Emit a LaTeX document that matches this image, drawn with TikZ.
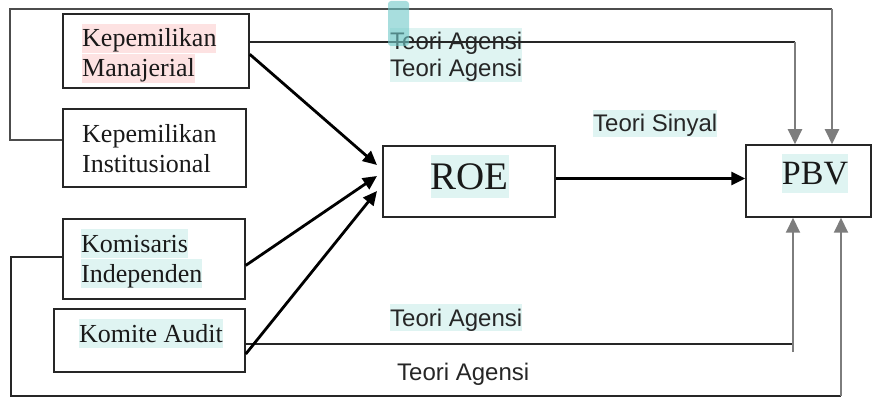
\documentclass[tikz,border=0pt]{standalone}
\usepackage{fontspec}
\setmainfont{Liberation Serif}
\newfontfamily\arialfont{Liberation Sans}
\usetikzlibrary{arrows.meta}
\definecolor{hlcyan}{RGB}{223,244,242}
\definecolor{hlpink}{RGB}{253,226,226}
\definecolor{marker}{RGB}{110,200,200}
\definecolor{linegray}{RGB}{125,125,125}
\tikzset{
  box/.style={draw=black!85, line width=1.5pt, inner sep=0pt},
  boxtext/.style={anchor=base west, inner sep=0pt, text height=23pt, text depth=6pt, text=black!90, font=\fontsize{26}{28}\selectfont},
  theory/.style={anchor=base west, inner sep=0pt, text height=22pt, text depth=5pt, text=black!85, font=\arialfont\fontsize{24}{26}\selectfont},
  link/.style={line width=1.4pt, black!85},
  grayarrow/.style={line width=2pt, linegray, -{Triangle[length=15pt,width=14pt]}},
  blackarrow/.style={line width=2.8pt, -{Triangle[length=14pt,width=13pt]}},
}
\begin{document}
\begin{tikzpicture}[x=1pt,y=1pt,yscale=-1,xscale=1]
\useasboundingbox (0,0) rectangle (873,398);
\node[box, minimum width=186pt, minimum height=74pt] (km) at (156,51) {};
\node[box, minimum width=183pt, minimum height=78pt] (ki) at (154.5,148) {};
\node[box, minimum width=182pt, minimum height=80pt] (kin) at (154,259) {};
\node[box, minimum width=191pt, minimum height=63pt] (ka) at (149.5,340.5) {};
\node[box, minimum width=172pt, minimum height=71pt] (roe) at (469,181.5) {};
\node[box, minimum width=125pt, minimum height=72pt] (pbv) at (808.5,181) {};
\node[boxtext, fill=hlpink] (kmA) at (82,47) {Kepemilikan};
\node[boxtext, fill=hlpink] (kmB) at (82,77) {Manajerial};
\node[boxtext] (kiA) at (82,143) {Kepemilikan};
\node[boxtext] (kiB) at (82,173) {Institusional};
\node[boxtext, fill=hlcyan] (kinA) at (81,252) {Komisaris};
\node[boxtext, fill=hlcyan] (kinB) at (81,282) {Independen};
\node[boxtext, fill=hlcyan] (kaA) at (79,342) {Komite Audit};
\node[anchor=base, inner sep=0pt, fill=hlcyan, text height=35pt, text depth=8pt, text=black!90, font=\fontsize{39}{41}\selectfont] (roeT) at (469.5,190) {ROE};
\node[anchor=base, inner sep=0pt, fill=hlcyan, text height=31pt, text depth=8pt, text=black!90, font=\fontsize{34}{36}\selectfont] (pbvT) at (815,185) {PBV};
\node[theory, fill=hlcyan] (ta1) at (390,50) {Teori Agensi};
\node[theory, fill=hlcyan] (ta2) at (390,77) {Teori Agensi};
\node[theory, fill=hlcyan] (ts) at (593,132) {Teori Sinyal};
\node[theory, fill=hlcyan] (ta3) at (390,326) {Teori Agensi};
\node[theory] (ta4) at (397,380) {Teori Agensi};
\coordinate (tl) at (10,140);
\coordinate (tt) at (10,9);
\coordinate (tr) at (832,9);
\coordinate (mr) at (795,42);
\coordinate (bl) at (11,257);
\coordinate (bb) at (11,396);
\coordinate (br) at (841,396);
\coordinate (ar) at (793,344);
\coordinate (arb) at (793,352);
\coordinate (r1) at (377,165);
\coordinate (r2) at (377,176);
\coordinate (r3) at (377,191);
\draw[link, black!70] (ki.west |- tl) -- (tl) -- (tt) -- (tr);
\draw[grayarrow] (tr) -- (tr |- pbv.north);
\draw[link] (km.east |- mr) -- (mr);
\draw[grayarrow] (mr) -- (mr |- pbv.north);
\draw[link] (kin.west |- bl) -- (bl) -- (bb) -- (br);
\draw[grayarrow] (br) -- (br |- pbv.south);
\draw[link] (ka.east |- ar) -- (ar);
\draw[grayarrow] (arb) -- (arb |- pbv.south);
\draw[blackarrow] (km.-2.5) -- (r1);
\draw[blackarrow] (kin.-4) -- (r2);
\draw[blackarrow] (ka.-8) -- (r3);
\draw[blackarrow] (roe.2) -- (roe.2 -| pbv.west);
\fill[marker, opacity=0.6, rounded corners=3pt] (388,1) rectangle (409,46);
\end{tikzpicture}
\end{document}
